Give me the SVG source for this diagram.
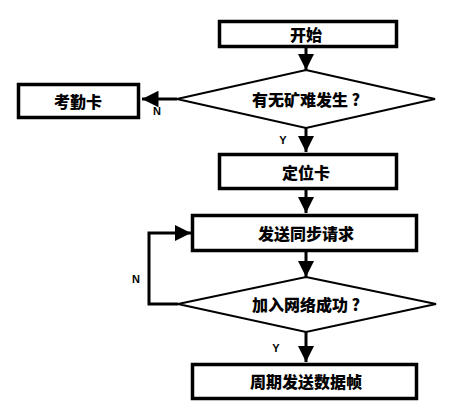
<svg xmlns="http://www.w3.org/2000/svg" width="457" height="409" viewBox="0 0 457 409">
<defs>
<style>
.box{fill:#fff;stroke:#000;stroke-width:3.5}
.dia{fill:#fff;stroke:#000;stroke-width:2}
.ln{fill:none;stroke:#000;stroke-width:3}
.t{font-family:"Noto Sans CJK SC","Liberation Sans",sans-serif;font-weight:900;font-size:16px;fill:#000;text-anchor:middle;dominant-baseline:central}
.l{font-family:"Liberation Sans",sans-serif;font-weight:bold;font-size:11px;fill:#000;text-anchor:middle;dominant-baseline:central}
</style>
<marker id="ah" viewBox="0 0 10 10" refX="10" refY="5" markerWidth="5.5" markerHeight="5.5" markerUnits="strokeWidth" orient="auto">
<path d="M0,0 L10,5 L0,10 Z" fill="#000"/>
</marker>
</defs>
<rect width="457" height="409" fill="#fff"/>
<g id="connectors">
<line class="ln" x1="306" y1="48" x2="306" y2="70" marker-end="url(#ah)"/>
<line class="ln" x1="177" y1="99" x2="142" y2="99" marker-end="url(#ah)"/>
<line class="ln" x1="306" y1="128" x2="306" y2="152" marker-end="url(#ah)"/>
<line class="ln" x1="306" y1="190" x2="306" y2="213" marker-end="url(#ah)"/>
<line class="ln" x1="306" y1="252" x2="306" y2="277" marker-end="url(#ah)"/>
<polyline class="ln" points="178,304 149,304 149,233 191,233" marker-end="url(#ah)"/>
<line class="ln" x1="306" y1="332" x2="306" y2="362" marker-end="url(#ah)"/>
<text class="l" x="157" y="111">N</text>
<text class="l" x="283" y="140">Y</text>
<text class="l" x="136" y="279">N</text>
<text class="l" x="276" y="348">Y</text>
</g>
<g id="start">
<rect class="box" x="219.5" y="21.5" width="177" height="25"/>
<text class="t" x="306" y="34">开始</text>
</g>
<g id="decision1">
<polygon class="dia" points="306,70 435,99 306,128 177,99"/>
<text class="t" x="306" y="99">有无矿难发生 ?</text>
</g>
<g id="attendance">
<rect class="box" x="18.5" y="84.5" width="120" height="33"/>
<text class="t" x="78" y="101">考勤卡</text>
</g>
<g id="locate">
<rect class="box" x="219.5" y="154.5" width="177" height="34"/>
<text class="t" x="306" y="172">定位卡</text>
</g>
<g id="sync">
<rect class="box" x="192.5" y="215.5" width="224" height="35"/>
<text class="t" x="306" y="233">发送同步请求</text>
</g>
<g id="decision2">
<polygon class="dia" points="306,277 436,304 306,332 178,304"/>
<text class="t" x="306" y="304">加入网络成功 ?</text>
</g>
<g id="periodic">
<rect class="box" x="192.5" y="364.5" width="224" height="34"/>
<text class="t" x="306" y="381">周期发送数据帧</text>
</g>
</svg>
